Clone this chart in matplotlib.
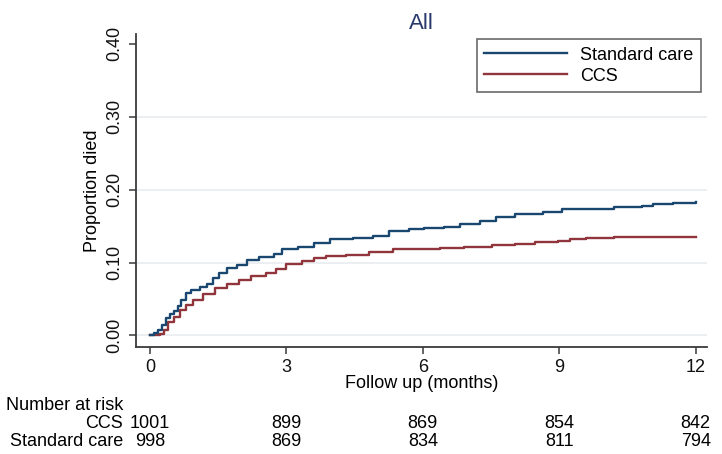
import matplotlib
matplotlib.use("Agg")
import matplotlib.pyplot as plt
from matplotlib.transforms import blended_transform_factory

plt.rcParams['font.family'] = ['Liberation Sans', 'DejaVu Sans']

# ---- data ----
std_t = [0, 0.09, 0.17, 0.26, 0.35, 0.43, 0.52, 0.61, 0.69, 0.78, 0.91, 1.09, 1.26, 1.39, 1.52, 1.69, 1.91,
         2.13, 2.39, 2.73, 2.91, 3.26, 3.6, 3.95, 4.47, 4.9, 5.25, 5.69, 6.03, 6.47, 6.81, 7.25, 7.6, 8.03,
         8.64, 9.07, 9.77, 10.2, 10.81, 11.07, 11.5, 12.0]
std_v = [0, 0.004, 0.008, 0.015, 0.024, 0.030, 0.033, 0.040, 0.049, 0.058, 0.063, 0.067, 0.070, 0.079, 0.086,
         0.092, 0.097, 0.104, 0.108, 0.112, 0.118, 0.122, 0.127, 0.132, 0.134, 0.137, 0.143, 0.146, 0.148,
         0.149, 0.153, 0.157, 0.163, 0.167, 0.169, 0.173, 0.174, 0.176, 0.178, 0.180, 0.182, 0.183]
ccs_t = [0, 0.22, 0.3, 0.39, 0.52, 0.65, 0.78, 0.95, 1.17, 1.43, 1.69, 1.95, 2.21, 2.56, 2.78, 2.99, 3.34,
         3.6, 3.86, 4.3, 4.82, 5.34, 5.86, 6.38, 6.9, 7.51, 8.03, 8.46, 8.98, 9.24, 9.59, 10.2, 12.0]
ccs_v = [0, 0.002, 0.008, 0.019, 0.026, 0.035, 0.042, 0.048, 0.057, 0.065, 0.070, 0.076, 0.082, 0.086, 0.091,
         0.098, 0.102, 0.106, 0.109, 0.111, 0.114, 0.118, 0.119, 0.120, 0.122, 0.124, 0.125, 0.128, 0.129,
         0.132, 0.134, 0.135, 0.135]

legend_labels = ["Standard care", "CCS"]
risk_times = [0, 3, 6, 9, 12]
risk_ccs = [1001, 899, 869, 854, 842]
risk_std = [998, 869, 834, 811, 794]
risk_row_labels = ["CCS", "Standard care"]
xticks = [0, 3, 6, 9, 12]
yticks = [0.0, 0.1, 0.2, 0.3, 0.4]
ytick_labels = ["0.00", "0.10", "0.20", "0.30", "0.40"]

W, H = 722, 454
fig = plt.figure(figsize=(W / 100, H / 100), dpi=100)
fig.patch.set_facecolor('white')

L, R, T, B = 136, 707, 34, 346.7
ax = fig.add_axes([L / W, 1 - B / H, (R - L) / W, (B - T) / H])
ax.set_xlim(-0.31, 12.25)
ax.set_ylim(-0.0154, 0.4136)

navy = '#1a476f'
maroon = '#90353b'
axcol = '#3a3a3a'
fs = 13

for g in [0.0, 0.1, 0.2, 0.3]:
    ax.axhline(g, color='#e9eef1', lw=1.3, zorder=0)

ax.step(std_t, std_v, where='post', color=navy, lw=1.7, label=legend_labels[0], zorder=3)
ax.step(ccs_t, ccs_v, where='post', color=maroon, lw=1.7, label=legend_labels[1], zorder=2)

for s in ['top', 'right']:
    ax.spines[s].set_visible(False)
for s in ['left', 'bottom']:
    ax.spines[s].set_color(axcol)
    ax.spines[s].set_linewidth(1.3)

ax.set_xticks(xticks)
ax.set_xticklabels([str(x) for x in xticks], fontsize=fs, color='#111111')
ax.set_yticks(yticks)
ax.set_yticklabels(ytick_labels, fontsize=fs, color='#111111', rotation=90, va='center')
ax.tick_params(axis='both', direction='out', length=5, width=1.1, color=axcol, pad=4)

ax.set_xlabel("Follow up (months)", fontsize=fs, labelpad=-1)
ax.set_ylabel("Proportion died", fontsize=fs, labelpad=4)

ax.set_title("All", fontsize=16, color='#2a3a6a', pad=3)

leg = ax.legend(loc='upper right', bbox_to_anchor=(701 / W, 1 - 39 / H), bbox_transform=fig.transFigure,
                borderaxespad=0, fontsize=fs, frameon=True, fancybox=False, edgecolor='#444444',
                handlelength=4.6, handletextpad=0.72, labelspacing=0.22, borderpad=0.42)
leg.get_frame().set_linewidth(1.2)

# Number at risk table
fx = lambda px: px / W
fy = lambda py: 1 - py / H
fig.text(fx(123), fy(405), "Number at risk", ha='right', va='center', fontsize=fs)
fig.text(fx(123), fy(423), risk_row_labels[0], ha='right', va='center', fontsize=fs)
fig.text(fx(123), fy(442), risk_row_labels[1], ha='right', va='center', fontsize=fs)
tr = blended_transform_factory(ax.transData, fig.transFigure)
for t, a, b in zip(risk_times, risk_ccs, risk_std):
    ax.text(t, fy(423), str(a), transform=tr, ha='center', va='center', fontsize=fs, clip_on=False)
    ax.text(t, fy(442), str(b), transform=tr, ha='center', va='center', fontsize=fs, clip_on=False)

fig.savefig("out.png", dpi=100)
